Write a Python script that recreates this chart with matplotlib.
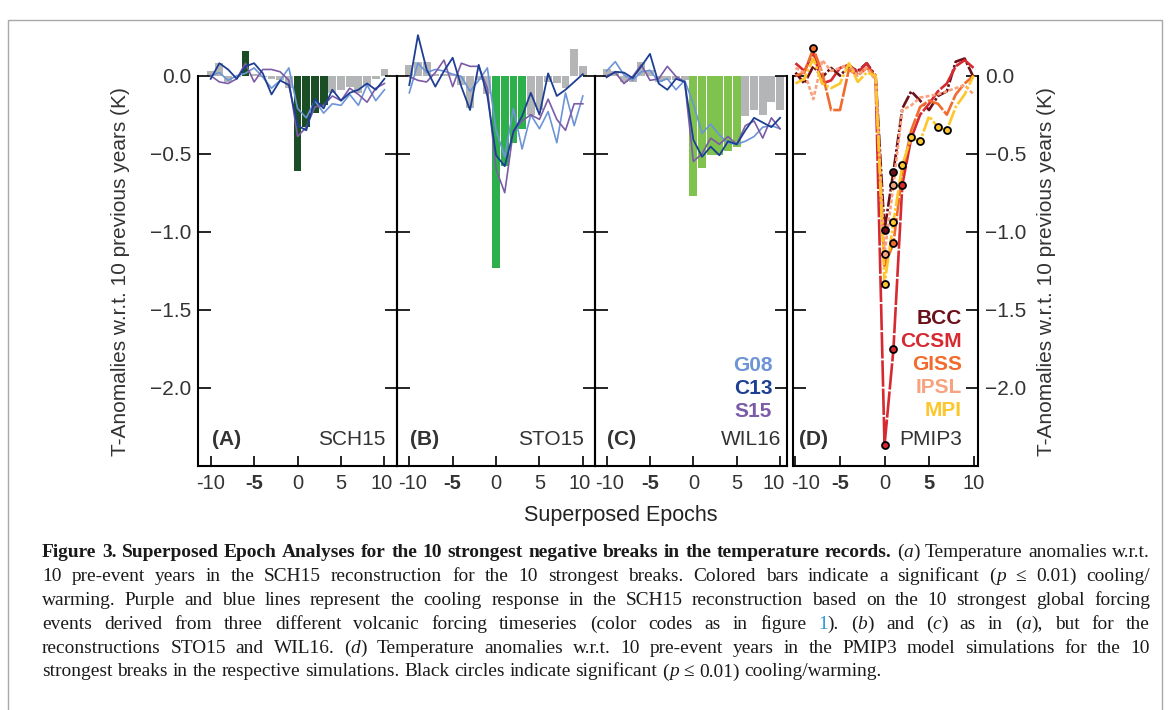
import matplotlib
matplotlib.use('Agg')
import matplotlib.pyplot as plt
from matplotlib.patches import Rectangle
from matplotlib.transforms import ScaledTranslation

plt.rcParams['font.family'] = ['Liberation Sans', 'DejaVu Sans']

epochs = list(range(-10, 11))
xtick_vals = [-10, -5, 0, 5, 10]
xtick_labels = ['-10', '-5', '0', '5', '10']
ytick_vals = [0.0, -0.5, -1.0, -1.5, -2.0]
ytick_labels = ['0.0', '\u22120.5', '\u22121.0', '\u22121.5', '\u22122.0']

# --- reconstructions (bars) and forcing-based responses (lines) ---
sch15_bars = [0.03, 0.08, -0.04, -0.01, 0.16, 0.01, -0.01, -0.02, -0.03, -0.08,
              -0.61, -0.33, -0.24, -0.19, -0.11, -0.09, -0.07, -0.11, -0.06, -0.02, 0.04]
sch15_sig = [0, 0, 0, 0, 1, 0, 0, 0, 0, 0, 1, 1, 1, 1, 0, 0, 0, 0, 0, 0, 0]
sch15_g08 = [0.0, 0.02, -0.03, 0.0, 0.015, 0.05, -0.01, -0.08, -0.03, 0.05,
             -0.21, -0.27, -0.16, -0.24, -0.18, -0.19, -0.12, -0.19, -0.06, -0.16, -0.09]
sch15_c13 = [-0.02, 0.08, 0.04, -0.02, 0.06, 0.08, 0.015, -0.12, -0.03, -0.06,
             -0.32, -0.35, -0.15, -0.21, -0.09, -0.16, -0.11, -0.09, -0.05, -0.09, -0.02]
sch15_s15 = [0.0, -0.04, -0.05, -0.02, 0.08, -0.04, 0.04, 0.04, 0.025, -0.03,
             -0.39, -0.33, -0.2, -0.19, -0.13, -0.16, -0.08, -0.12, -0.17, -0.08, -0.05]

sto15_bars = [0.07, 0.09, 0.09, 0.01, 0.01, 0.01, -0.06, -0.21, -0.03, -0.12,
              -1.23, -0.58, -0.43, -0.34, -0.25, -0.22, -0.04, -0.045, -0.08, 0.17, 0.06]
sto15_sig = [0, 0, 0, 0, 0, 0, 0, 0, 0, 0, 1, 1, 1, 1, 0, 0, 0, 0, 0, 0, 0]
sto15_g08 = [-0.11, 0.08, 0.02, 0.04, 0.03, 0.01, -0.005, -0.1, -0.03, 0.05,
             -0.35, -0.52, -0.21, -0.47, -0.25, -0.34, -0.23, -0.43, -0.11, -0.32, -0.13]
sto15_c13 = [-0.06, 0.26, 0.04, -0.07, 0.03, 0.115, -0.07, -0.22, 0.07, -0.13,
             -0.51, -0.58, -0.36, -0.26, -0.11, -0.25, 0.015, -0.13, -0.09, -0.04, 0.01]
sto15_s15 = [-0.005, -0.03, -0.04, 0.02, 0.1, -0.07, 0.08, 0.06, 0.06, -0.08,
             -0.6, -0.75, -0.35, -0.29, -0.25, -0.28, -0.15, -0.28, -0.35, -0.18, -0.18]

wil16_bars = [0.04, 0.03, -0.04, -0.04, 0.09, 0.035, -0.04, -0.03, -0.03, -0.03,
              -0.77, -0.59, -0.51, -0.51, -0.48, -0.455, -0.26, -0.22, -0.25, -0.17, -0.22]
wil16_sig = [0, 0, 0, 0, 0, 0, 0, 0, 0, 0, 1, 1, 1, 1, 1, 1, 0, 0, 0, 0, 0]
wil16_g08 = [0.03, 0.09, 0.005, -0.03, 0.025, 0.035, -0.04, -0.02, -0.09, -0.03,
             -0.18, -0.37, -0.31, -0.38, -0.43, -0.44, -0.42, -0.39, -0.33, -0.32, -0.34]
wil16_c13 = [-0.01, 0.025, 0.02, -0.015, 0.06, 0.14, -0.05, -0.09, -0.02, -0.04,
             -0.41, -0.52, -0.455, -0.51, -0.42, -0.44, -0.35, -0.27, -0.3, -0.33, -0.27]
wil16_s15 = [0.0, 0.02, -0.05, -0.005, 0.07, -0.03, -0.02, 0.06, -0.005, -0.04,
             -0.55, -0.5, -0.4, -0.44, -0.39, -0.44, -0.32, -0.29, -0.4, -0.27, -0.34]

# --- PMIP3 models ---
model_names = ['BCC', 'CCSM', 'GISS', 'IPSL', 'MPI']
bcc = [0.02, -0.05, 0.06, -0.01, 0.05, 0.0, 0.06, 0.03, 0.08, 0.0,
       -0.99, -0.615, -0.21, -0.10, -0.16, -0.22, -0.13, -0.10, 0.09, 0.11, -0.01]
bcc_sig = [0, 0, 0, 0, 0, 0, 0, 0, 0, 0, 1, 1, 0, 0, 0, 0, 0, 0, 0, 0, 0]
ccsm = [0.08, 0.03, 0.15, -0.05, -0.03, 0.05, 0.07, 0.02, 0.08, -0.02,
        -2.37, -1.755, -0.70, -0.40, -0.25, -0.18, -0.10, -0.05, 0.06, 0.10, 0.05]
ccsm_sig = [0, 0, 0, 0, 0, 0, 0, 0, 0, 0, 1, 1, 1, 0, 0, 0, 0, 0, 0, 0, 0]
giss = [0.0, 0.02, 0.175, 0.02, -0.22, -0.22, 0.04, 0.0, 0.05, 0.0,
        -1.22, -1.075, -0.62, -0.35, -0.2, -0.16, -0.18, -0.25, -0.12, -0.05, 0.0]
giss_sig = [0, 0, 1, 0, 0, 0, 0, 0, 0, 0, 0, 1, 0, 0, 0, 0, 0, 0, 0, 0, 0]
ipsl = [0.05, 0.02, -0.15, 0.1, 0.03, 0.05, 0.07, 0.0, 0.05, -0.03,
        -1.14, -0.70, -0.22, -0.19, -0.14, -0.13, -0.12, -0.10, -0.08, -0.06, -0.12]
ipsl_sig = [0, 0, 0, 0, 0, 0, 0, 0, 0, 0, 1, 1, 0, 0, 0, 0, 0, 0, 0, 0, 0]
mpi = [-0.05, -0.02, 0.11, -0.05, -0.08, -0.05, 0.08, -0.04, 0.02, 0.0,
       -1.335, -0.94, -0.57, -0.395, -0.42, -0.26, -0.33, -0.35, -0.2, -0.12, 0.0]
mpi_sig = [0, 0, 0, 0, 0, 0, 0, 0, 0, 0, 1, 1, 1, 1, 1, 0, 1, 1, 0, 0, 0]

GRAY = '#b3b5b6'
C_G08, C_C13, C_S15 = '#6c94d6', '#1d3f93', '#7c5ba7'
model_colors = ['#6b1019', '#d62a30', '#f26b2e', '#f8a27f', '#fdc72c']
model_dashes = [(0, (5, 0.8, 1, 0.8)), (0, (10, 0.7)), (0, (7, 0.7)), (0, (1.5, 0.8)), (0, (6, 0.8, 1, 0.8))]

W, H = 1171, 710
Y_TOP, Y_BOT = 28.9, 465.7
TXT = '#333333'

fig = plt.figure(figsize=(W / 100, H / 100), dpi=100)


def px_axes(x0, x1):
    return fig.add_axes([x0 / W, 1 - Y_BOT / H, (x1 - x0) / W, (Y_BOT - Y_TOP) / H])


def shift_label(lab, dx_px):
    lab.set_transform(lab.get_transform() + ScaledTranslation(dx_px / 100, 0, fig.dpi_scale_trans))


def style(ax, xlim, labelleft=False, labelright=False):
    ax.set_xlim(xlim)
    ax.set_ylim(-2.5, 0.3)
    ax.patch.set_alpha(0)
    ax.spines['top'].set_visible(False)
    for s in ['left', 'right']:
        ax.spines[s].set_bounds(-2.5, 0)
        ax.spines[s].set_linewidth(1.5)
    ax.spines['bottom'].set_linewidth(1.5)
    ax.set_yticks(ytick_vals)
    ax.set_yticklabels(ytick_labels)
    ax.set_xticks(xtick_vals)
    ax.set_xticklabels(xtick_labels)
    ax.tick_params(axis='y', direction='in', length=9, width=1.2, left=True, right=True,
                   labelleft=labelleft, labelright=labelright, labelsize=15,
                   labelcolor=TXT, pad=5)
    ax.tick_params(axis='x', direction='in', length=7, width=1.2, labelsize=14.5,
                   labelcolor=TXT, pad=6)
    labs = ax.get_xticklabels()
    labs[1].set_fontweight('bold')
    return labs


recons = [
    ('(A)', 'SCH15', sch15_bars, sch15_sig, sch15_g08, sch15_c13, sch15_s15, '#1c4e26',
     (198, 397.3), (-11.46, 11.48)),
    ('(B)', 'STO15', sto15_bars, sto15_sig, sto15_g08, sto15_c13, sto15_s15, '#2db04b',
     (397.3, 595), (-11.38, 11.4)),
    ('(C)', 'WIL16', wil16_bars, wil16_sig, wil16_g08, wil16_c13, wil16_s15, '#80c24e',
     (595, 787), (-11.34, 10.8)),
]

for i, (tag, name, bars, sig, g08, c13, s15, col, px, xlim) in enumerate(recons):
    ax = px_axes(*px)
    colors = [col if s else GRAY for s in sig]
    ax.bar(epochs, bars, width=0.9, color=colors, zorder=1)
    ax.plot(epochs, g08, color=C_G08, lw=1.2, zorder=3)
    ax.plot(epochs, s15, color=C_S15, lw=1.2, zorder=3)
    ax.plot(epochs, c13, color=C_C13, lw=1.3, zorder=4)
    labs = style(ax, xlim, labelleft=(i == 0))
    shift_label(labs[-1], -3)
    if i > 0:
        shift_label(labs[0], 3)
    if i == 2:
        shift_label(labs[-1], -3)
    ax.text(-9.9, -2.33, tag, fontsize=15, fontweight='bold', color=TXT, va='center', ha='left')
    ax.text(10.1, -2.33, name, fontsize=15, color=TXT, va='center', ha='right')
    if name == 'WIL16':
        for lab, c, yv in zip(['G08', 'C13', 'S15'], [C_G08, C_C13, C_S15], [-1.86, -2.005, -2.15]):
            ax.text(9.1, yv, lab, fontsize=15, fontweight='bold', color=c, va='center', ha='right')

# --- PMIP3 panel ---
axd = px_axes(793, 978)
models = [bcc, ccsm, giss, ipsl, mpi]
sigs = [bcc_sig, ccsm_sig, giss_sig, ipsl_sig, mpi_sig]
for vals, sg, c, ls in zip(models, sigs, model_colors, model_dashes):
    axd.plot(epochs, vals, color=c, lw=1.9, linestyle=ls, zorder=3)
for vals, sg, c in zip(models, sigs, model_colors):
    ex = [e for e, s in zip(epochs, sg) if s]
    ev = [v for v, s in zip(vals, sg) if s]
    axd.plot(ex, ev, 'o', ms=5, mfc=c, mec='black', mew=1.3, zorder=5, linestyle='none')
labs = style(axd, (-10.28, 10.5), labelright=True)
labs[3].set_fontweight('bold')
shift_label(labs[0], 10)
for k, (nm, c) in enumerate(zip(model_names, model_colors)):
    axd.text(8.7, -1.555 - 0.148 * k, nm, fontsize=15, fontweight='bold', color=c,
             va='center', ha='right')
axd.text(-9.6, -2.33, '(D)', fontsize=15, fontweight='bold', color=TXT, va='center', ha='left')
axd.text(8.7, -2.33, 'PMIP3', fontsize=15, color=TXT, va='center', ha='right')

ylab = 'T-Anomalies w.r.t. 10 previous years (K)'
fig.text(121 / W, 1 - 272 / H, ylab, rotation=90, fontsize=15, color=TXT, ha='center', va='center')
fig.text(1046 / W, 1 - 272 / H, ylab, rotation=90, fontsize=15, color=TXT, ha='center', va='center')
fig.text(621 / W, 1 - 516 / H, 'Superposed Epochs', fontsize=15.5, color='#222222',
         ha='center', va='center')

# frame around figure + caption
fig.add_artist(Rectangle((8 / W, -0.05), (1154 / W), 1 - 20 / H + 0.05, transform=fig.transFigure,
                         fill=False, edgecolor='#a8a8a8', lw=1.0))

# --- caption, justified ---
caption_lines = [
    [('Figure 3.  Superposed Epoch Analyses for the 10 strongest negative breaks in the temperature records.', 'b'),
     (' (', 'n'), ('a', 'i'), (') Temperature anomalies w.r.t.', 'n')],
    [('10 pre-event years in the SCH15 reconstruction for the 10 strongest breaks. Colored bars indicate a significant (', 'n'),
     ('p', 'i'), (' \u2264 0.01) cooling/', 'n')],
    [('warming. Purple and blue lines represent the cooling response in the SCH15 reconstruction based on the 10 strongest global forcing', 'n')],
    [('events derived from three different volcanic forcing timeseries (color codes as in figure ', 'n'), ('1', 'l'),
     ('). (', 'n'), ('b', 'i'), (') and (', 'n'), ('c', 'i'), (') as in (', 'n'), ('a', 'i'), ('), but for the', 'n')],
    [('reconstructions STO15 and WIL16. (', 'n'), ('d', 'i'),
     (') Temperature anomalies w.r.t. 10 pre-event years in the PMIP3 model simulations for the 10', 'n')],
    [('strongest breaks in the respective simulations. Black circles indicate significant (', 'n'), ('p', 'i'),
     (' \u2264 0.01) cooling/warming.', 'n')],
]


def kw(style_key, size):
    d = dict(family=['Liberation Serif', 'DejaVu Serif'], fontsize=size, color='#1a1a1a')
    if style_key == 'b':
        d['fontweight'] = 'bold'
    elif style_key == 'i':
        d['fontstyle'] = 'italic'
    elif style_key == 'l':
        d['color'] = '#2b9ad6'
    return d


def to_words(segments):
    words = [[]]
    for text, st in segments:
        parts = text.split(' ')
        for k, p in enumerate(parts):
            if k > 0:
                words.append([])
            if p:
                words[-1].append((p, st))
    return [w for w in words if w]


fig.canvas.draw()
renderer = fig.canvas.get_renderer()


def width_of(s, st, size):
    t = fig.text(0, 0, s, **kw(st, size))
    w = t.get_window_extent(renderer).width
    t.remove()
    return w


X0, X1 = 42, 1150
size = 12.5
space = width_of('a a', 'n', size) - width_of('aa', 'n', size)
nat = []
for line in caption_lines:
    ws = to_words(line)
    tot = sum(width_of(p, st, size) for w in ws for p, st in w) + space * (len(ws) - 1)
    nat.append(tot)
fit_full = size * (X1 - X0) * 0.995 / max(nat[:5])
fit_last = size * 898 / nat[5]
size = min(fit_full, fit_last)
space = width_of('a a', 'n', size) - width_of('aa', 'n', size)

for li, line in enumerate(caption_lines):
    ws = to_words(line)
    widths = [[width_of(p, st, size) for p, st in w] for w in ws]
    total = sum(sum(w) for w in widths)
    if li < 5:
        gap = (X1 - X0 - total) / (len(ws) - 1)
    else:
        gap = space
    y = 1 - (557 + 23.9 * li) / H
    x = X0
    for w, wd in zip(ws, widths):
        for (p, st), pw in zip(w, wd):
            fig.text(x / W, y, p, va='baseline', ha='left', **kw(st, size))
            x += pw
        x += gap

fig.savefig('out.png', dpi=100)
